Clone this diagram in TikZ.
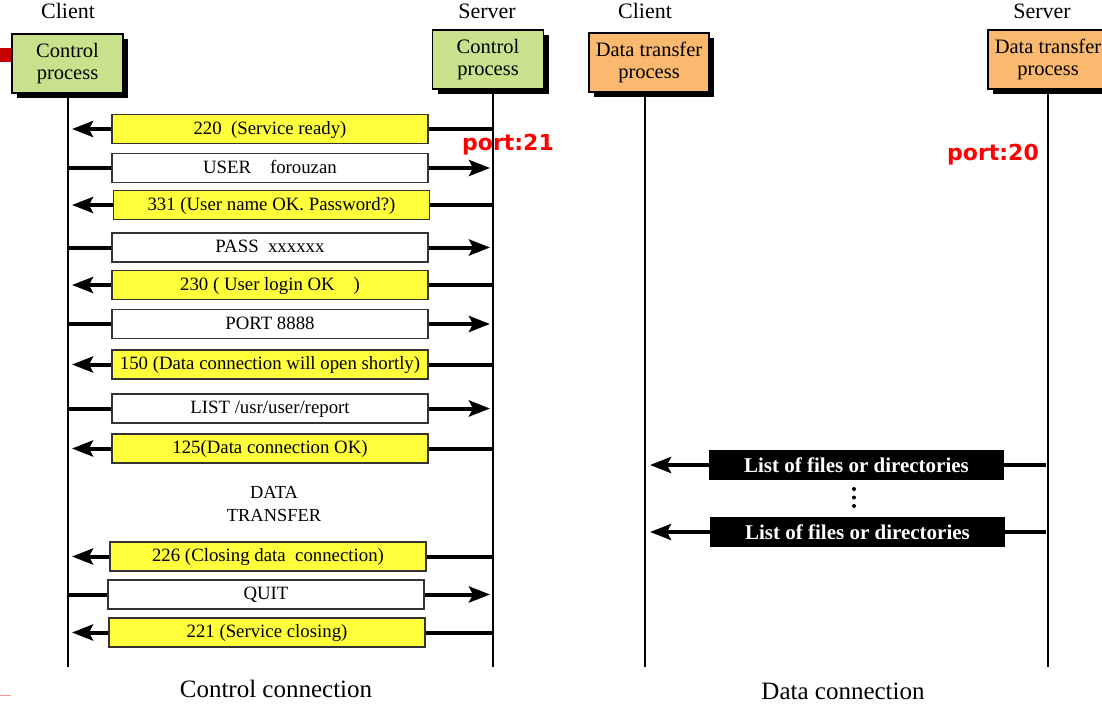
\documentclass[tikz,border=0pt]{standalone}
\usepackage{fontspec}
\setmainfont{Liberation Serif}
\newfontfamily\portfont{DejaVu Sans}
\usetikzlibrary{arrows.meta,shadows,backgrounds}
\definecolor{ctlgreen}{RGB}{200,225,140}
\definecolor{datorange}{RGB}{250,185,110}
\definecolor{msgyellow}{RGB}{255,255,60}
\definecolor{slidered}{RGB}{200,0,0}
\begin{document}
\begin{tikzpicture}[x=1pt,y=-1pt,
  lifeline/.style={line width=1.5pt},
  procbox/.style={draw=black, line width=1.2pt, minimum width=111pt, minimum height=59pt,
    inner sep=0pt, align=center, font=\fontsize{20.5}{22}\selectfont,
    drop shadow={shadow xshift=5pt, shadow yshift=-5pt, fill=black, opacity=1}},
  ctlbox/.style={procbox, fill=ctlgreen},
  datbox/.style={procbox, fill=datorange, minimum width=120pt},
  msgbox/.style={draw=black!80, line width=1.3pt, minimum width=316pt, minimum height=29pt,
    inner sep=0pt, text height=13pt, text depth=3pt, font=\fontsize{18.8}{20}\selectfont},
  ybox/.style={msgbox, fill=msgyellow},
  wbox/.style={msgbox, fill=white},
  blkbox/.style={fill=black, minimum width=295pt, minimum height=30pt, inner sep=0pt,
    text=white, font=\fontsize{21}{22}\selectfont\bfseries},
  role/.style={font=\fontsize{22}{22}\selectfont},
  caption/.style={font=\fontsize{25}{25}\selectfont},
  porttxt/.style={text=red, font=\fontsize{22}{22}\selectfont\portfont\bfseries},
  arr/.style={line width=4pt, -{Stealth[length=21pt,width=16pt,inset=4pt]}}
]
\clip (0,0) rectangle (1102,707);
\path[use as bounding box] (0,0) rectangle (1102,707);

% slide decorations
\fill[slidered] (0,48) rectangle (11,62);
\draw[red!40, line width=1pt] (0,695) -- (11,695);

% role labels
\node[role] (cl1) at (68,11) {Client};
\node[role] (sv1) at (487,11) {Server};
\node[role] (cl2) at (645,11) {Client};
\node[role] (sv2) at (1042,11) {Server};

% process boxes
\node[ctlbox] (cctl) at (67.5,63.5) {Control\\process};
\node[ctlbox] (sctl) at (488,59.5) {Control\\process};
\node[datbox] (cdat) at (649,62.5) {Data transfer\\process};
\node[datbox] (sdat) at (1048,59.5) {Data transfer\\process};

% lifelines
\coordinate (L1t) at (68,95);  \coordinate (L1b) at (68,667);
\coordinate (L2t) at (493,92); \coordinate (L2b) at (493,667);
\coordinate (L3t) at (645,95); \coordinate (L3b) at (645,667);
\coordinate (L4t) at (1048,92); \coordinate (L4b) at (1048,667);
\draw[lifeline] (L1t) -- (L1b);
\draw[lifeline] (L2t) -- (L2b);
\draw[lifeline] (L3t) -- (L3b);
\draw[lifeline] (L4t) -- (L4b);

% control messages
\node[ybox] (m1) at (270,129) {220~~(Service ready)};
\node[wbox] (m2) at (270,168) {USER\quad forouzan};
\node[ybox] (m3) at (271.5,205) {331 (User name OK. Password?)};
\node[wbox] (m4) at (270,247.5) {PASS~~xxxxxx};
\node[ybox] (m5) at (270,285) {230 ( User login OK~~~~)};
\node[wbox] (m6) at (270,324) {PORT 8888};
\node[ybox] (m7) at (270,364.5) {150 (Data connection will open shortly)};
\node[wbox] (m8) at (270,408.5) {LIST /usr/user/report};
\node[ybox] (m9) at (270,448.5) {125(Data connection OK)};
\node[font=\fontsize{18.4}{23}\selectfont, align=center] (dt) at (274,504) {DATA\\TRANSFER};
\node[ybox] (m10) at (268,556.5) {226 (Closing data~~connection)};
\node[wbox] (m11) at (266,594.5) {QUIT};
\node[ybox] (m12) at (267,632.5) {221 (Service closing)};

% data messages
\node[blkbox] (d1) at (856.5,465) {List of files or directories};
\node[blkbox] (d2) at (857.5,532) {List of files or directories};
\fill (854,489) circle (2pt) (854,497.5) circle (2pt) (854,506) circle (2pt);

% port labels
\node[porttxt] (p21) at (508,145) {port:21};
\node[porttxt] (p20) at (993,155) {port:20};

% captions
\node[caption] (cc) at (276,689) {Control connection};
\node[caption] (dc) at (843,691) {Data connection};

% arrows behind boxes
\begin{scope}[on background layer]
\foreach \m in {m1,m3,m5,m7,m9,m10,m12}{
  \draw[arr] (L2t |- \m) -- ([xshift=4pt]L1t |- \m);
}
\foreach \m in {m2,m4,m6,m8,m11}{
  \draw[arr] (L1t |- \m) -- ([xshift=-3pt]L2t |- \m);
}
\foreach \m in {d1,d2}{
  \draw[arr] ([xshift=-2pt]L4t |- \m) -- ([xshift=5pt]L3t |- \m);
}
\end{scope}
\end{tikzpicture}
\end{document}
